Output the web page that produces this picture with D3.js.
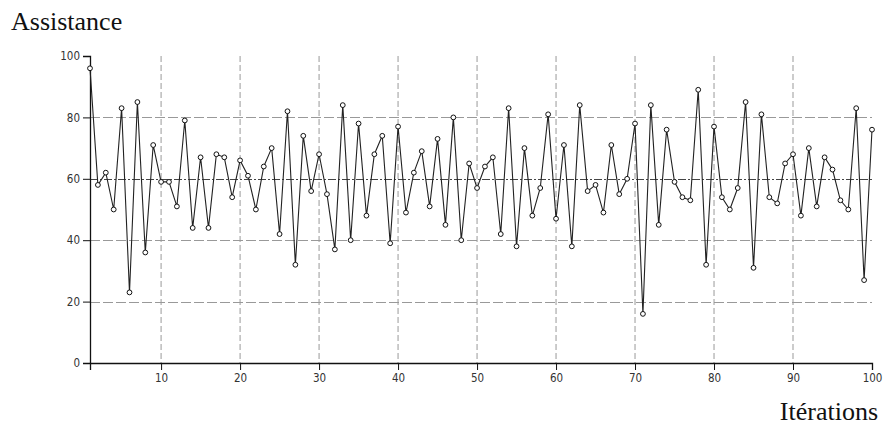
<!DOCTYPE html>
<html>
<head>
<meta charset="utf-8">
<script src="https://cdn.jsdelivr.net/npm/d3@7"></script>
<style>
  body { margin: 0; background: #fff; }
  svg { display: block; }
</style>
</head>
<body>
<div id="chart"></div>
<script>
// valeurs, itérations 1..100
const iterations = d3.range(1, 101);
const assistance = [
  96, 58, 62, 50, 83, 23, 85, 36, 71, 59,
  59, 51, 79, 44, 67, 44, 68, 67, 54, 66,
  61, 50, 64, 70, 42, 82, 32, 74, 56, 68,
  55, 37, 84, 40, 78, 48, 68, 74, 39, 77,
  49, 62, 69, 51, 73, 45, 80, 40, 65, 57,
  64, 67, 42, 83, 38, 70, 48, 57, 81, 47,
  71, 38, 84, 56, 58, 49, 71, 55, 60, 78,
  16, 84, 45, 76, 59, 54, 53, 89, 32, 77,
  54, 50, 57, 85, 31, 81, 54, 52, 65, 68,
  48, 70, 51, 67, 63, 53, 50, 83, 27, 76
];
const yTicks = [0, 20, 40, 60, 80, 100];
const xTicks = [10, 20, 30, 40, 50, 60, 70, 80, 90, 100];

const width = 885, height = 429;
const margin = { top: 56, right: 13, bottom: 66, left: 90 };

const svg = d3.select("#chart").append("svg")
  .attr("width", width)
  .attr("height", height);

const x = d3.scaleLinear().domain([1, 100]).range([margin.left, width - margin.right]);
const y = d3.scaleLinear().domain([0, 100]).range([height - margin.bottom, margin.top]);

// grille
svg.append("g").selectAll("line")
  .data(xTicks.filter(d => d < 100))
  .enter().append("line")
  .attr("x1", d => x(d)).attr("x2", d => x(d))
  .attr("y1", y(100)).attr("y2", y(0))
  .attr("stroke", "#999").attr("stroke-width", 1)
  .attr("stroke-dasharray", "6,3");

svg.append("g").selectAll("line")
  .data(yTicks.filter(d => d > 0 && d < 100))
  .enter().append("line")
  .attr("x1", x(1)).attr("x2", x(100))
  .attr("y1", d => Math.round(y(d)) + 0.5).attr("y2", d => Math.round(y(d)) + 0.5)
  .attr("stroke", d => d == 60 ? "#444" : "#999")
  .attr("stroke-width", 1)
  .attr("stroke-dasharray", d => d == 60 ? "8,2,2,2" : "10,3");

// axes
const axisY = d3.axisLeft(y).tickValues(yTicks).tickSize(7).tickPadding(3);
const axisX = d3.axisBottom(x).tickValues(xTicks).tickSize(7).tickPadding(4);

const gy = svg.append("g")
  .attr("transform", "translate(" + margin.left + ",0)")
  .call(axisY);
const gx = svg.append("g")
  .attr("transform", "translate(0," + (height - margin.bottom) + ")")
  .call(axisX);

[gx, gy].forEach(g => {
  g.select(".domain").attr("stroke", "#111").attr("stroke-width", 1.3);
  g.selectAll(".tick line").attr("stroke", "#111");
  g.selectAll(".tick text")
    .attr("fill", "#333")
    .attr("font-family", "DejaVu Sans Condensed, DejaVu Sans, sans-serif")
    .attr("font-size", "11.5px");
});

// courbe
const line = d3.line()
  .x((d, i) => x(iterations[i]))
  .y(d => y(d));

svg.append("path")
  .datum(assistance)
  .attr("fill", "none")
  .attr("stroke", "#222")
  .attr("stroke-width", 1.1)
  .attr("d", line);

svg.append("g").selectAll("circle")
  .data(assistance)
  .enter().append("circle")
  .attr("cx", (d, i) => x(iterations[i]))
  .attr("cy", d => y(d))
  .attr("r", 2.4)
  .attr("fill", "#fff")
  .attr("stroke", "#111")
  .attr("stroke-width", 1);

// titres
svg.append("text")
  .attr("x", 11).attr("y", 30)
  .attr("font-family", "Liberation Serif, Times New Roman, serif")
  .attr("font-size", "26px")
  .attr("fill", "#111")
  .text("Assistance");

svg.append("text")
  .attr("x", 878).attr("y", 420)
  .attr("text-anchor", "end")
  .attr("font-family", "Liberation Serif, Times New Roman, serif")
  .attr("font-size", "26px")
  .attr("fill", "#111")
  .text("Itérations");
</script>
</body>
</html>
